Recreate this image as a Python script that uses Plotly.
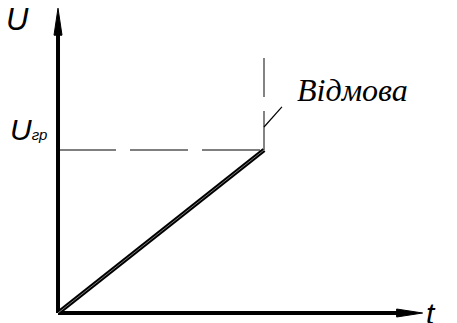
import plotly.graph_objects as go

# ---- data (in chart units) ----
t_ramp = [0.0, 1.0]          # time points of the ramp
U_ramp = [0.0, 1.0]          # voltage along the ramp
U_gr = 1.0                   # breakdown voltage level
t_fail = 1.0                 # time of failure
t_axis_end = 1.77            # length of t axis
U_axis_end = 1.87            # length of U axis
fail_mark_top = 1.564        # top of the dashed failure marker
leader_start = [1.0, 1.141]  # leader line of the "Відмова" label
leader_end = [1.087, 1.264]
label_fail = "Відмова"
label_U = "U"
label_Ugr = "U<span style='font-size:15px'>гр</span>"
label_t = "t"

X_RANGE = [-0.2816, 1.9369]
Y_RANGE = [-0.0613, 1.9202]

fig = go.Figure()

def line(xs, ys, width, color="black", dash="solid"):
    fig.add_trace(go.Scatter(x=xs, y=ys, mode="lines",
                             line=dict(color=color, width=width, dash=dash),
                             hoverinfo="skip", showlegend=False))

# dashed guides
line([0, t_fail], [U_gr, U_gr], 1.2, dash="58px,14px")
line([t_fail, t_fail], [U_gr, fail_mark_top], 1.2, color="#333", dash="39px,14px")
# leader
line([leader_start[0], leader_end[0]], [leader_start[1], leader_end[1]], 1.2)

# axes
line([0, 0], [0, U_axis_end - 0.1], 4)
line([0, t_axis_end - 0.08], [0, 0], 4)
# arrow heads (triangles built from axis ends)
sx = 1 / 206.0
sy = 1 / 163.0
fig.add_trace(go.Scatter(
    x=[-4 * sx, 4 * sx, 0, -4 * sx],
    y=[U_axis_end - 27 * sy, U_axis_end - 27 * sy, U_axis_end, U_axis_end - 27 * sy],
    mode="lines", fill="toself", fillcolor="black", line=dict(color="black", width=1),
    hoverinfo="skip", showlegend=False))
fig.add_trace(go.Scatter(
    x=[t_axis_end - 26 * sx, t_axis_end - 26 * sx, t_axis_end, t_axis_end - 26 * sx],
    y=[-4 * sy, 4 * sy, 0, -4 * sy],
    mode="lines", fill="toself", fillcolor="black", line=dict(color="black", width=1),
    hoverinfo="skip", showlegend=False))

# ramp
line(t_ramp, U_ramp, 4.5)
line(t_ramp, U_ramp, 0.8, color="#9a9a9a")

SERIF = "Times New Roman, Liberation Serif, DejaVu Serif, serif"
SANS = "Liberation Sans, Arial, sans-serif"

# labels
fig.add_annotation(x=leader_end[0] + 0.065, y=leader_end[1] - 0.02, text="<i>" + label_fail + "</i>",
                   showarrow=False, xanchor="left", yanchor="bottom",
                   font=dict(family=SERIF, size=32, color="black"))
fig.add_annotation(x=-0.26, y=U_axis_end + 0.05, text="<i>" + label_U + "</i>", showarrow=False,
                   xanchor="left", yanchor="top",
                   font=dict(family=SANS, size=31, color="black"))
fig.add_annotation(x=-0.245, y=U_gr + 0.01, text="<i>" + label_Ugr + "</i>", showarrow=False,
                   xanchor="left", yanchor="bottom",
                   font=dict(family=SANS, size=30, color="black"))
fig.add_annotation(x=t_axis_end + 0.005, y=0.0, text="<i>" + label_t + "</i>", showarrow=False,
                   xanchor="left", yanchor="middle",
                   font=dict(family=SANS, size=30, color="black"))

fig.update_xaxes(range=X_RANGE, visible=False, fixedrange=True)
fig.update_yaxes(range=Y_RANGE, visible=False, fixedrange=True)
fig.update_layout(width=457, height=323, margin=dict(l=0, r=0, t=0, b=0),
                  plot_bgcolor="white", paper_bgcolor="white")

fig.write_html("out.html", config={"staticPlot": True},
               post_script="document.body.style.margin='0';document.body.style.overflow='hidden';")
